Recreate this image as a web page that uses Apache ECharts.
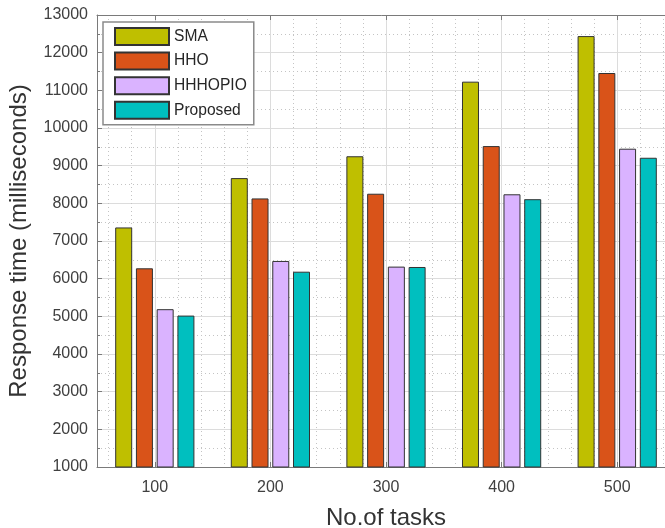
<!DOCTYPE html>
<html>
<head>
<meta charset="utf-8">
<script src="https://cdn.jsdelivr.net/npm/echarts@6/dist/echarts.min.js"></script>
<style>
html,body{margin:0;padding:0;background:#fff;}
#chart{width:665px;height:528px;}
</style>
</head>
<body>
<div id="chart"></div>
<script>
const categories = ['100', '200', '300', '400', '500'];
const seriesNames = ['SMA', 'HHO', 'HHHOPIO', 'Proposed'];
const smaValues = [7360, 8670, 9250, 11230, 12440];
const hhoValues = [6275, 8130, 8255, 9520, 11460];
const hhhopioValues = [5190, 6470, 6320, 8240, 9450];
const proposedValues = [5020, 6185, 6310, 8110, 9210];
const colors = ['#BFBF00', '#D95319', '#DAB3FF', '#00BFBF'];
const yTicks = { min: 1000, max: 13000, interval: 1000 };

const minorCats = [];
for (let i = 0; i < categories.length * 5; i++) minorCats.push('m' + i);

const FONT = '"Liberation Sans", Arial, Helvetica, sans-serif';
const chart = echarts.init(document.getElementById('chart'), null, { renderer: 'canvas' });

const allValues = [smaValues, hhoValues, hhhopioValues, proposedValues];

chart.setOption({
  animation: false,
  backgroundColor: '#ffffff',
  textStyle: { fontFamily: FONT },
  grid: { left: 97, top: 15, bottom: 61, right: -10, containLabel: false, outerBoundsMode: 'none' },
  legend: {
    orient: 'vertical',
    left: 103,
    top: 22,
    padding: [5, 7, 5, 11],
    itemWidth: 54,
    itemHeight: 17,
    itemGap: 5.6,
    icon: 'rect',
    backgroundColor: '#ffffff',
    borderColor: '#8a8a8a',
    borderWidth: 1.5,
    textStyle: { fontFamily: FONT, fontSize: 15.6, color: '#262626', padding: [0, 0, 0, 0] },
    data: seriesNames
  },
  xAxis: [
    {
      type: 'category',
      data: categories,
      position: 'bottom',
      name: 'No.of tasks',
      nameLocation: 'middle',
      nameGap: 39,
      nameTextStyle: { fontFamily: FONT, fontSize: 24, color: '#333333' },
      axisLine: { show: true, lineStyle: { color: '#7a7a7a', width: 1 } },
      axisTick: { show: true, inside: true, alignWithLabel: true, length: 5, lineStyle: { color: '#7a7a7a' } },
      axisLabel: { fontFamily: FONT, fontSize: 16, color: '#404040', margin: 13 },
      splitLine: { show: true, alignWithLabel: true, lineStyle: { color: '#dcdcdc', width: 1, type: 'solid' } }
    },
    {
      type: 'category',
      data: categories,
      position: 'top',
      axisLine: { show: true, lineStyle: { color: '#7a7a7a', width: 1 } },
      axisTick: { show: true, inside: true, alignWithLabel: true, length: 5, lineStyle: { color: '#7a7a7a' } },
      axisLabel: { show: false },
      splitLine: { show: false }
    },
    {
      type: 'category',
      data: minorCats,
      position: 'bottom',
      axisLine: { show: false },
      axisTick: { show: false },
      axisLabel: { show: false },
      splitLine: {
        show: true,
        alignWithLabel: true,
        interval: function (i) { return i % 5 !== 2; },
        lineStyle: { color: '#c4c4c4', width: 1, type: [1, 3] }
      }
    }
  ],
  yAxis: {
    type: 'value',
    min: yTicks.min,
    max: yTicks.max,
    interval: yTicks.interval,
    name: 'Response time (milliseconds)',
    nameLocation: 'middle',
    nameGap: 66,
    nameTextStyle: { fontFamily: FONT, fontSize: 24, color: '#333333' },
    axisLine: { show: true, lineStyle: { color: '#7a7a7a', width: 1 } },
    axisTick: { show: true, inside: true, length: 5, lineStyle: { color: '#7a7a7a' } },
    minorTick: { show: true, splitNumber: 2, length: 3, lineStyle: { color: '#7a7a7a' } },
    axisLabel: { fontFamily: FONT, fontSize: 16, color: '#404040', margin: 9, formatter: function (v) { return String(v); } },
    splitLine: { show: true, lineStyle: { color: '#dcdcdc', width: 1, type: 'solid' } },
    minorSplitLine: { show: true, lineStyle: { color: '#c4c4c4', width: 1, type: [1, 3] } }
  },
  series: seriesNames.map(function (name, i) {
    return {
      name: name,
      type: 'bar',
      xAxisIndex: 0,
      data: allValues[i],
      barWidth: 17,
      barGap: '22%',
      itemStyle: { color: colors[i], borderColor: '#333333', borderWidth: 1 }
    };
  })
});
</script>
</body>
</html>
